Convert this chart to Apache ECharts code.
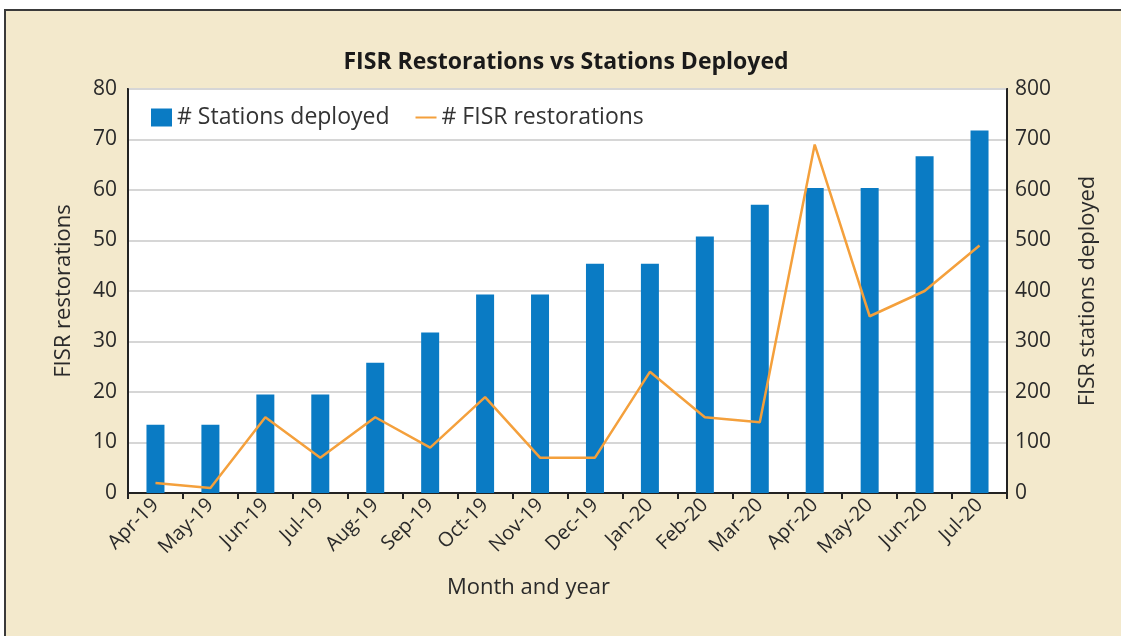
<!DOCTYPE html>
<html>
<head>
<meta charset="utf-8">
<script src="https://cdn.jsdelivr.net/npm/echarts@6/dist/echarts.min.js"></script>
<style>
  body { margin: 0; background: #ffffff; }
  .frame {
    position: absolute; left: 4px; top: 9px; width: 1130px; height: 640px;
    border: 2px solid #3a3a3a; background: #f3e9cc;
  }
  #chart { position: absolute; left: 0; top: 0; width: 1121px; height: 636px; }
</style>
</head>
<body>
<div class="frame"></div>
<div id="chart"></div>
<script>
// chart data
const months = ['Apr-19', 'May-19', 'Jun-19', 'Jul-19', 'Aug-19', 'Sep-19', 'Oct-19', 'Nov-19',
  'Dec-19', 'Jan-20', 'Feb-20', 'Mar-20', 'Apr-20', 'May-20', 'Jun-20', 'Jul-20'];
const stationsDeployed = [135, 135, 195, 195, 258, 318, 393, 393, 454, 454, 508, 571, 604, 604, 667, 718];
const fisrRestorations = [2, 1, 15, 7, 15, 9, 19, 7, 7, 24, 15, 14, 69, 35, 40, 49];

const textColor = '#2a2a2a';
const font = 'Open Sans';
// thin horizontal stroke for the line legend (bounding points keep it thin)
const lineIcon = 'path://M0,0 L0.01,0 M0,7.6 L20,7.6 L20,9.4 L0,9.4 Z M19.99,17 L20,17';

const chart = echarts.init(document.getElementById('chart'));
chart.setOption({
  backgroundColor: 'transparent',
  textStyle: { fontFamily: font },
  animation: false,
  title: {
    text: 'FISR Restorations vs Stations Deployed',
    left: 561,
    textAlign: 'center',
    top: 46,
    textStyle: { fontFamily: font, fontSize: 23, fontWeight: 'bold', color: '#1a1a1a' }
  },
  legend: {
    left: 146,
    top: 101,
    itemGap: 26,
    textStyle: { fontFamily: font, fontSize: 23, color: '#333' },
    data: [
      { name: '# Stations deployed', icon: 'rect', itemStyle: { color: '#0a7bc4' } },
      { name: '# FISR restorations', icon: lineIcon, itemStyle: { color: '#f4a03c' } }
    ],
    itemWidth: 21,
    itemHeight: 18
  },
  grid: {
    left: 128, right: 114, top: 89, bottom: 143,
    show: true, backgroundColor: '#ffffff', borderColor: '#222', borderWidth: 2
  },
  xAxis: {
    type: 'category',
    data: months,
    axisLine: { lineStyle: { color: '#222', width: 2 } },
    axisTick: { show: true, length: 6, lineStyle: { color: '#222', width: 2 } },
    axisLabel: { rotate: 45, fontSize: 20, color: textColor, margin: 9, interval: 0 }
  },
  yAxis: [
    {
      type: 'value', min: 0, max: 80, interval: 10,
      name: 'FISR restorations', nameLocation: 'middle', nameGap: 53,
      nameTextStyle: { fontSize: 22, color: textColor },
      axisLine: { show: true, lineStyle: { color: '#222', width: 2 } },
      axisTick: { show: false },
      axisLabel: { fontSize: 21, color: textColor, margin: 11 },
      splitLine: { lineStyle: { color: '#d6d6d6', width: 2 } }
    },
    {
      type: 'value', min: 0, max: 800, interval: 100,
      name: 'FISR stations deployed', nameLocation: 'middle', nameGap: 70,
      nameRotate: 90,
      nameTextStyle: { fontSize: 22, color: textColor },
      axisLine: { show: true, lineStyle: { color: '#222', width: 2 } },
      axisTick: { show: false },
      axisLabel: { fontSize: 21, color: textColor, margin: 8 },
      splitLine: { show: false }
    }
  ],
  graphic: [{
    type: 'text',
    left: 447,
    top: 577,
    style: { text: 'Month and year', fontFamily: font, fontSize: 22, fill: textColor }
  }],
  series: [
    {
      name: '# Stations deployed',
      type: 'bar',
      yAxisIndex: 1,
      data: stationsDeployed,
      barWidth: 18,
      itemStyle: { color: '#0a7bc4' }
    },
    {
      name: '# FISR restorations',
      type: 'line',
      yAxisIndex: 0,
      data: fisrRestorations,
      symbol: 'none',
      lineStyle: { color: '#f4a03c', width: 2.5 },
      itemStyle: { color: '#f4a03c' }
    }
  ]
});
</script>
</body>
</html>
